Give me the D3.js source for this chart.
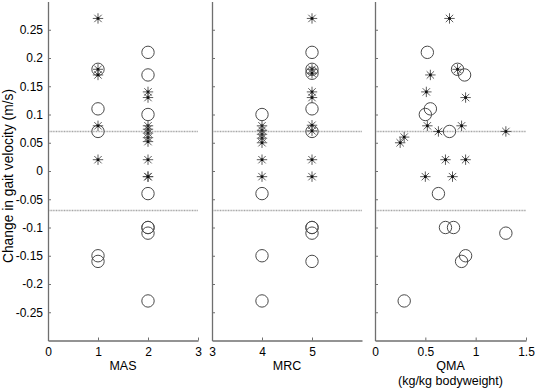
<!DOCTYPE html>
<html>
<head>
<meta charset="utf-8">
<script src="https://cdn.jsdelivr.net/npm/d3@7"></script>
<style>
  html, body { margin: 0; padding: 0; background: #fff; }
  svg { display: block; }
  text { font-family: "Liberation Sans", Arial, sans-serif; fill: #000; }
</style>
</head>
<body>
<svg id="chart" width="536" height="389"></svg>
<script>
// ---------- data ----------
const yTicks = [0.25, 0.2, 0.15, 0.1, 0.05, 0, -0.05, -0.1, -0.15, -0.2, -0.25];
const yTickLabels = ["0.25", "0.2", "0.15", "0.1", "0.05", "0", "-0.05", "-0.1", "-0.15", "-0.2", "-0.25"];
const refLines = [0.07, -0.07];

// MAS panel
const masStarX = [1, 1, 1, 1, 1, 2, 2, 2, 2, 2, 2, 2, 2, 2, 2];
const masStarY = [0.27, 0.18, 0.17, 0.08, 0.02, 0.14, 0.13, 0.08, 0.074, 0.067, 0.059, 0.052, 0.02, -0.01, -0.01];
const masCircX = [1, 1, 1, 1, 1, 2, 2, 2, 2, 2, 2, 2, 2];
const masCircY = [0.18, 0.11, 0.07, -0.15, -0.16, 0.21, 0.17, 0.10, -0.04, -0.10, -0.10, -0.11, -0.23];

// MRC panel
const mrcStarX = [4, 4, 4, 4, 4, 4, 4, 5, 5, 5, 5, 5, 5, 5, 5, 5];
const mrcStarY = [0.08, 0.072, 0.065, 0.058, 0.05, 0.02, -0.01, 0.27, 0.18, 0.173, 0.14, 0.13, 0.081, 0.071, 0.02, -0.01];
const mrcCircX = [4, 4, 4, 4, 5, 5, 5, 5, 5, 5, 5, 5, 5];
const mrcCircY = [0.10, -0.04, -0.15, -0.23, 0.21, 0.18, 0.173, 0.11, 0.07, -0.10, -0.10, -0.11, -0.16];

// QMA panel
const qmaStarX = [0.74, 0.82, 0.55, 0.51, 0.90, 0.52, 0.86, 0.63, 1.30, 0.29, 0.25, 0.70, 0.90, 0.50, 0.77];
const qmaStarY = [0.27, 0.18, 0.17, 0.14, 0.13, 0.08, 0.08, 0.07, 0.07, 0.06, 0.05, 0.02, 0.02, -0.01, -0.01];
const qmaCircX = [0.52, 0.82, 0.89, 0.55, 0.50, 0.74, 0.63, 0.70, 0.78, 1.30, 0.90, 0.86, 0.29];
const qmaCircY = [0.21, 0.18, 0.17, 0.11, 0.10, 0.07, -0.04, -0.10, -0.10, -0.11, -0.15, -0.16, -0.23];

const panels = [
  { left: 48,  right: 198, domain: [0, 3],   ticks: [0, 1, 2, 3],     tickLabels: ["0", "1", "2", "3"],
    title: ["MAS"], showY: true,
    stars: [masStarX, masStarY], circles: [masCircX, masCircY] },
  { left: 212, right: 362, domain: [3, 6],   ticks: [3, 4, 5],        tickLabels: ["3", "4", "5"],
    title: ["MRC"], showY: false,
    stars: [mrcStarX, mrcStarY], circles: [mrcCircX, mrcCircY] },
  { left: 375, right: 526, domain: [0, 1.5], ticks: [0, 0.5, 1, 1.5], tickLabels: ["0", "0.5", "1", "1.5"],
    title: ["QMA", "(kg/kg bodyweight)"], showY: false,
    stars: [qmaStarX, qmaStarY], circles: [qmaCircX, qmaCircY] }
];

// ---------- drawing ----------
const svg = d3.select("#chart");
const yTop = 1.5, yBottom = 340.5;
const y = d3.scaleLinear().domain([-0.3, 0.3]).range([yBottom, yTop]);
const axisColor = "#6f6f6f";
const markColor = "#4a4a4a";

panels.forEach(p => {
  const x = d3.scaleLinear().domain(p.domain).range([p.left, p.right]);
  const g = svg.append("g");

  // reference lines
  g.selectAll("line.ref").data(refLines).join("line")
    .attr("class", "ref")
    .attr("x1", p.left).attr("x2", p.right)
    .attr("y1", d => y(d)).attr("y2", d => y(d))
    .attr("stroke", "#a6a6a6").attr("stroke-width", 1.5)
    .attr("stroke-dasharray", "1,0.6");

  // y axis
  const yAxis = d3.axisLeft(y).tickValues(yTicks)
    .tickSizeInner(-3).tickSizeOuter(0).tickPadding(5)
    .tickFormat((d, i) => p.showY ? yTickLabels[i] : "");
  const ya = g.append("g").attr("transform", `translate(${p.left},0)`).call(yAxis);
  ya.select(".domain").attr("stroke", axisColor).attr("stroke-width", 1.3);
  ya.selectAll(".tick line").attr("stroke", axisColor);
  ya.selectAll(".tick text").attr("font-size", 12).attr("fill", "#000")
    .attr("font-family", "Liberation Sans, Arial, sans-serif");

  // x axis
  const xAxis = d3.axisBottom(x).tickValues(p.ticks)
    .tickSizeInner(-3).tickSizeOuter(0).tickPadding(7)
    .tickFormat((d, i) => p.tickLabels[i]);
  const xa = g.append("g").attr("transform", `translate(0,${yBottom})`).call(xAxis);
  xa.select(".domain").attr("stroke", axisColor).attr("stroke-width", 1.3);
  xa.selectAll(".tick line").attr("stroke", axisColor);
  xa.selectAll(".tick text").attr("font-size", 12).attr("fill", "#000")
    .attr("font-family", "Liberation Sans, Arial, sans-serif");

  // x title
  const cx = (p.left + p.right) / 2;
  p.title.forEach((t, i) => {
    g.append("text").attr("x", cx).attr("y", 370 + i * 15)
      .attr("text-anchor", "middle").attr("font-size", 12.5).text(t);
  });

  // circles
  const cData = p.circles[0].map((v, i) => [v, p.circles[1][i]]);
  g.selectAll("circle.pt").data(cData).join("circle")
    .attr("class", "pt")
    .attr("cx", d => x(d[0])).attr("cy", d => y(d[1]))
    .attr("r", 6.2).attr("fill", "none")
    .attr("stroke", markColor).attr("stroke-width", 1);

  // stars (MATLAB '*' marker)
  const sData = p.stars[0].map((v, i) => [v, p.stars[1][i]]);
  const star = d3.path();
  const L = 5.2, D = 3.7;
  star.moveTo(-L, 0); star.lineTo(L, 0);
  star.moveTo(0, -L); star.lineTo(0, L);
  star.moveTo(-D, -D); star.lineTo(D, D);
  star.moveTo(-D, D); star.lineTo(D, -D);
  const sg = g.selectAll("g.star").data(sData).join("g")
    .attr("class", "star")
    .attr("transform", d => `translate(${x(d[0])},${y(d[1])})`);
  sg.append("path").attr("d", star.toString())
    .attr("stroke", markColor).attr("stroke-width", 0.9).attr("fill", "none");
  sg.append("rect").attr("x", -1.3).attr("y", -1.3).attr("width", 2.6).attr("height", 2.6)
    .attr("fill", "#111");
});

// y label
svg.append("text")
  .attr("transform", "translate(12.5,176) rotate(-90)")
  .attr("text-anchor", "middle").attr("font-size", 13.8)
  .text("Change in gait velocity (m/s)");
</script>
</body>
</html>
